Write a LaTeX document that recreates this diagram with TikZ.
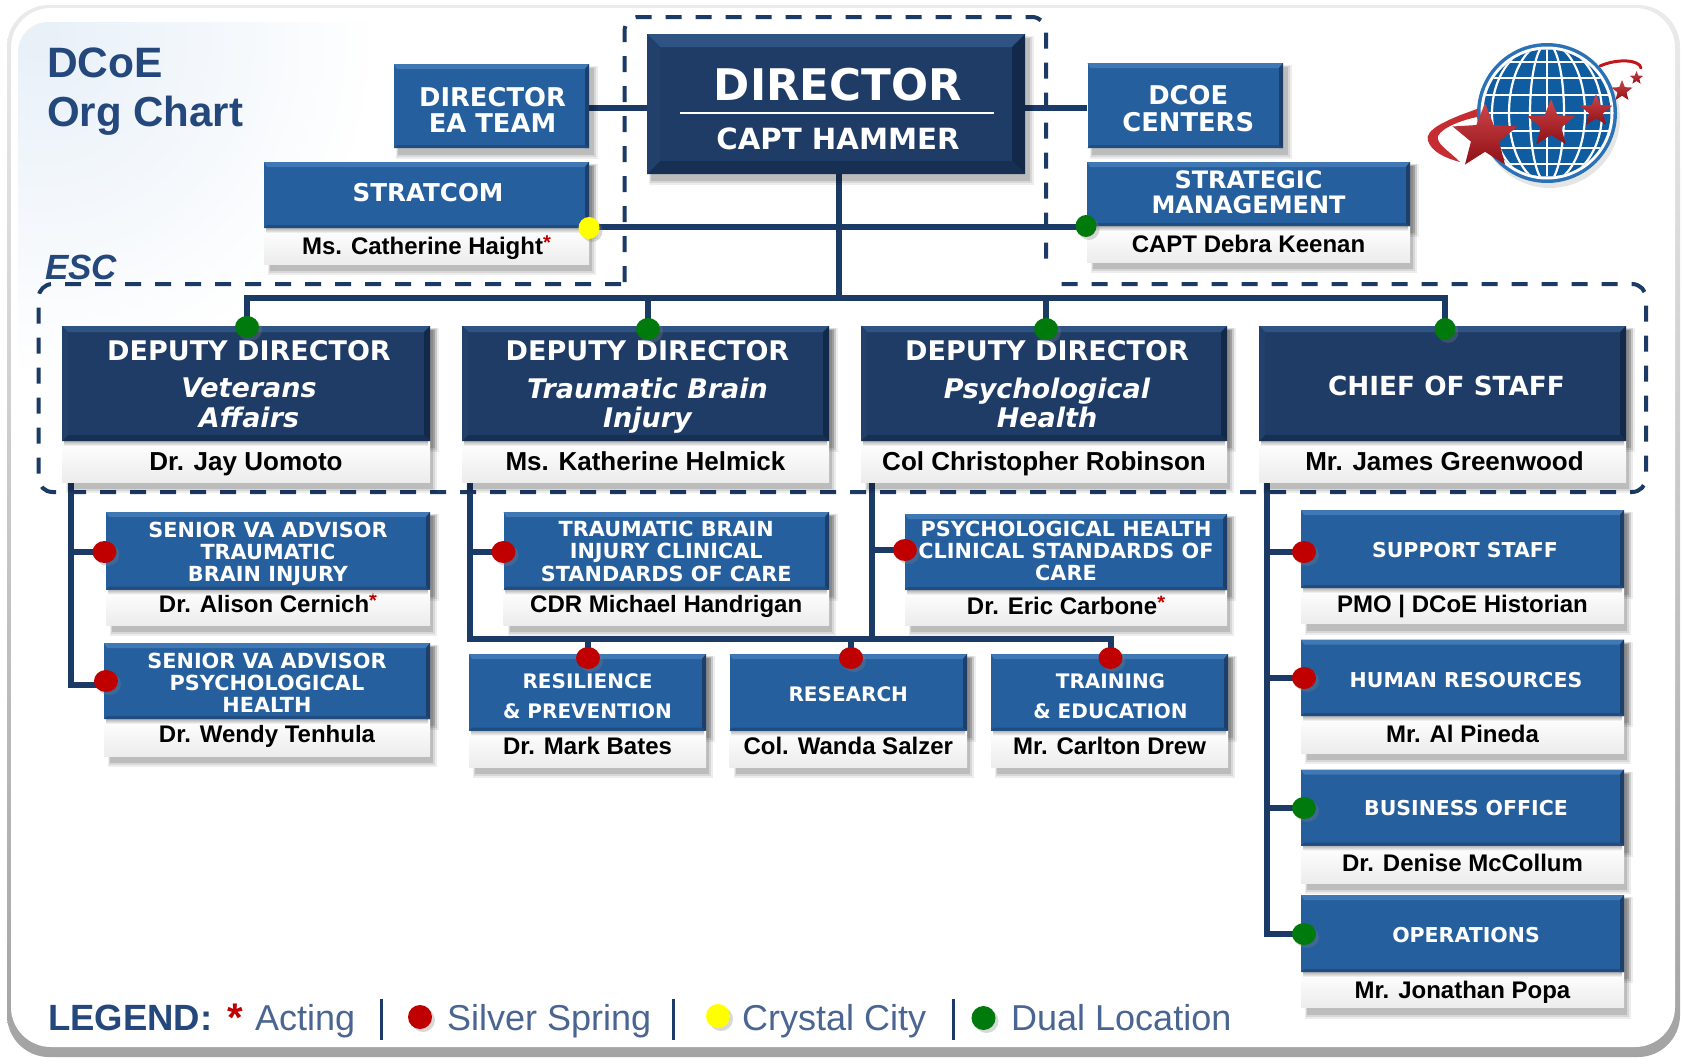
\documentclass[tikz,border=0pt]{standalone}
\usepackage{fontspec}
\setmainfont{Liberation Sans}
\newfontfamily\boxfont{DejaVu Sans}
\usetikzlibrary{shapes.geometric,shadows}
\definecolor{navy}{HTML}{1E3C66}
\definecolor{navyhi}{HTML}{2F5483}
\definecolor{navylo}{HTML}{12294A}
\definecolor{midblue}{HTML}{255F9E}
\definecolor{bluehi}{HTML}{3F78B4}
\definecolor{bluelo}{HTML}{1D3F6B}
\definecolor{linecol}{HTML}{1B3A66}
\definecolor{titlecol}{HTML}{24477C}
\definecolor{legcol}{HTML}{4A6591}
\definecolor{dotred}{HTML}{C00000}
\definecolor{dotgreen}{HTML}{007A0C}
\definecolor{dotyellow}{HTML}{FFFF00}
\definecolor{panelgrey}{HTML}{ECECEC}
\definecolor{globeblue}{HTML}{0F5CA0}
\definecolor{globering}{HTML}{2A72B5}
\definecolor{cornertint}{HTML}{E8F0F8}
\definecolor{starred}{HTML}{C0161C}
\tikzset{
  bluebox/.style={fill=midblue,text=white,inner sep=0pt,font=\boxfont\bfseries},
  navybox/.style={fill=navy,text=white,inner sep=0pt,font=\boxfont\bfseries},
  namebox/.style={top color=white,bottom color=panelgrey,text=black,inner sep=0pt,font=\bfseries},
  conn/.style={draw=linecol,line width=6pt,line cap=butt,line join=miter},
  dashbox/.style={draw=linecol,line width=4pt,dash pattern=on 16pt off 14pt,rounded corners=14pt},
  orgdot/.style={ellipse,minimum width=24pt,minimum height=22pt,inner sep=0pt,
    drop shadow={shadow xshift=3pt,shadow yshift=-3pt,opacity=.3}},
  reddot/.style={orgdot,fill=dotred},
  greendot/.style={orgdot,fill=dotgreen},
  yellowdot/.style={orgdot,fill=dotyellow,minimum width=21pt},
  legtext/.style={anchor=base west,inner sep=0pt,text=legcol,font=\fontsize{36}{38}\selectfont},
  legbar/.style={draw=linecol,line width=3pt},
  starshape/.style={star,star points=5,star point ratio=2.3,inner sep=0pt,top color=starred!80!white,bottom color=starred!75!black}
}
\newcommand\lns[4]{\raisebox{#1pt}[0pt][0pt]{\fontsize{#2}{#3}\selectfont\begin{tabular}[c]{@{}c@{}}#4\end{tabular}}}
\newcommand\rt[1]{\hspace*{#1pt}}
\newcommand\nm[2][24]{\raisebox{0pt}[0pt][0pt]{\fontsize{#1}{#1}\selectfont\raisebox{-0.35em}[0pt][0pt]{#2}}}
\newcommand\nmup[2]{\raisebox{#1pt}[0pt][0pt]{\nm{#2}}}
\newcommand\actg{\textcolor{dotred}{\raisebox{.2em}{\fontsize{20}{20}\selectfont *}}}
\newcommand\softsh[4]{%
  \fill[black,opacity=.07] (#1+2,#2+2) rectangle (#3+9,#4+11);
  \fill[black,opacity=.09] (#1+3,#2+3) rectangle (#3+7,#4+9);
  \fill[black,opacity=.12] (#1+4,#2+4) rectangle (#3+5,#4+7);}
\newcommand\orgbox[7]{%
  \pgfmathsetmacro\cx{(#2+#4)/2}\pgfmathsetmacro\cy{(#3+#5)/2}%
  \pgfmathsetmacro\bw{#4-#2}\pgfmathsetmacro\bh{#5-#3}%
  \node[#6,minimum width=\bw pt,minimum height=\bh pt] (#1) at (\cx,\cy) {#7};}
\newcommand\bevelblue[4]{%
  \fill[bluehi] (#1,#2)--(#3,#2)--(#3-4,#2+5)--(#1+3,#2+5)--cycle;
  \fill[bluelo] (#3,#2)--(#3,#4)--(#3-4,#4)--(#3-4,#2+5)--cycle;
  \fill[bluelo!60!midblue] (#1,#4)--(#3,#4)--(#3-4,#4-3)--(#1+3,#4-3)--cycle;}
\newcommand\bevelnavy[5]{%
  \fill[navyhi] (#1,#2)--(#3,#2)--(#3-#5,#2+#5)--(#1+#5,#2+#5)--cycle;
  \fill[navylo] (#3,#2)--(#3,#4)--(#3-#5,#4-#5)--(#3-#5,#2+#5)--cycle;
  \fill[navylo!70!navy] (#1,#4)--(#3,#4)--(#3-#5,#4-#5)--(#1+#5,#4-#5)--cycle;
  \fill[navy!80!navyhi] (#1,#2)--(#1,#4)--(#1+#5,#4-#5)--(#1+#5,#2+#5)--cycle;}
\newcommand\plainblue[6]{\softsh{#2}{#3}{#4}{#5}\orgbox{#1}{#2}{#3}{#4}{#5}{bluebox}{#6}\bevelblue{#2}{#3}{#4}{#5}}
\newcommand\panel[6]{%
  \orgbox{#1}{#2+2}{#3}{#4-2}{#5}{namebox}{#6}
  \shade[top color=black!50,bottom color=white,opacity=.6] (#2+2,#3) rectangle (#4-2,#3+5);}
\newcommand\bluestaff[8]{%
  \softsh{#2+2}{#3}{#4-2}{#6}\softsh{#2}{#3}{#4}{#5}%
  \panel{#1n}{#2}{#5}{#4}{#6}{#8}%
  \orgbox{#1}{#2}{#3}{#4}{#5}{bluebox}{#7}\bevelblue{#2}{#3}{#4}{#5}}
\newcommand\navystaff[8]{%
  \softsh{#2+2}{#3}{#4-2}{#6}\softsh{#2}{#3}{#4}{#5}%
  \panel{#1n}{#2}{#5}{#4}{#6}{#8}%
  \orgbox{#1}{#2}{#3}{#4}{#5}{navybox}{#7}\bevelnavy{#2}{#3}{#4}{#5}{6}}
\pgfdeclarelayer{backplate}
\pgfdeclarelayer{lines}
\pgfsetlayers{backplate,lines,main}
\begin{document}
\begin{tikzpicture}[x=1pt,y=-1pt]
\useasboundingbox (0,0) rectangle (1683,1063);
\begin{pgfonlayer}{backplate}
\fill[white] (0,0) rectangle (1683,1063);
\shade[top color=black!8,bottom color=black!36,rounded corners=42pt] (7,5) rectangle (1680,1057);
\fill[white,rounded corners=40pt] (11,8) rectangle (1675,1047);
\begin{scope}
\clip[rounded corners=30pt] (18,22) rectangle (700,700);
\shade[inner color=cornertint,outer color=white] (40,40) circle (340);
\end{scope}
\end{pgfonlayer}
% titles
\node[anchor=base west,inner sep=0pt,text=titlecol,font=\bfseries\fontsize{42.5}{44}\selectfont] (ttl1) at (47,77) {DCoE};
\node[anchor=base west,inner sep=0pt,text=titlecol,font=\bfseries\fontsize{42}{44}\selectfont] (ttl2) at (47,126) {Org Chart};
\node[anchor=base west,inner sep=0pt,text=titlecol,font=\bfseries\itshape\fontsize{35}{37}\selectfont] (esc) at (45,279) {ESC};
% dashed groups
\begin{pgfonlayer}{lines}
\draw[dashbox] (621,284) -- (38.5,284) -- (38.5,492) -- (1646,492) -- (1646,284) -- (1058,284);
\draw[dashbox] (624.5,282) -- (624.5,17) -- (1046,17) -- (1046,262);
\end{pgfonlayer}
% top row
\softsh{647}{34}{1025}{174}
\orgbox{dir}{647}{34}{1025}{174}{navybox}{\lns{7}{43.6}{46}{\rt{4}DIRECTOR}}
\bevelnavy{647}{34}{1025}{174}{13}
\node[inner sep=0pt,text=white,font=\boxfont\bfseries\fontsize{29.2}{31}\selectfont] (dirsub) at (838,139) {CAPT HAMMER};
\draw[white,line width=2pt] (680,112.5) -- (994,112.5);
\plainblue{ea}{394}{64}{589}{148}{\lns{-14}{25.8}{25.5}{\rt{2}DIRECTOR\\\rt{2}EA TEAM}}
\plainblue{ctr}{1087.5}{63}{1283}{148}{\lns{-12.7}{25.8}{25.5}{\rt{6}DCOE\\\rt{6}CENTERS}}
\bluestaff{strat}{264}{162}{589}{228}{264}{\lns{-7.6}{24.6}{26}{\rt{3}STRATCOM}}{\nm{Ms. Catherine Haight\actg}}
\bluestaff{smg}{1087}{162}{1410}{226}{262}{\lns{-7.6}{24}{23}{STRATEGIC\\MANAGEMENT}}{\nm{CAPT Debra Keenan}}
% deputies
\navystaff{dva}{62}{326}{430}{441}{482}{\lns{-11}{27}{29}{\rt{6}DEPUTY DIRECTOR\\[8pt]\rt{6}\itshape Veterans\\\rt{6}\itshape Affairs}}{\nm[26]{Dr. Jay Uomoto}}
\navystaff{dtb}{462}{326}{829}{441}{482}{\lns{-11}{27}{29}{\rt{4}DEPUTY DIRECTOR\\[8pt]\rt{4}\itshape Traumatic Brain\\\rt{4}\itshape Injury}}{\nm[26]{Ms. Katherine Helmick}}
\navystaff{dph}{861}{326}{1227}{441}{482}{\lns{-11}{27}{29}{\rt{6}DEPUTY DIRECTOR\\[8pt]\rt{6}\itshape Psychological\\\rt{6}\itshape Health}}{\nm[26]{Col Christopher Robinson}}
\navystaff{cos}{1259}{326}{1626}{441}{482}{\lns{-12.7}{26.3}{28}{\rt{8}CHIEF OF STAFF}}{\nm[26]{\rt{4}Mr. James Greenwood}}
% left column
\bluestaff{sv1}{106}{512}{430}{589.5}{625}{\lns{-9.7}{20.8}{22}{SENIOR VA ADVISOR\\TRAUMATIC\\BRAIN INJURY}}{\nmup{3.5}{Dr. Alison Cernich\actg}}
\bluestaff{sv2}{104}{643}{430}{719}{756}{\lns{-10}{20.8}{22}{SENIOR VA ADVISOR\\PSYCHOLOGICAL\\HEALTH}}{\nmup{3}{Dr. Wendy Tenhula}}
% middle
\bluestaff{tbi}{503.5}{512}{829}{589.5}{625}{\lns{-9}{20.8}{22}{TRAUMATIC BRAIN\\INJURY CLINICAL\\STANDARDS OF CARE}}{\nmup{3.5}{CDR Michael Handrigan}}
\bluestaff{phc}{905}{514}{1227}{590}{625}{\lns{-7}{20.8}{22}{PSYCHOLOGICAL HEALTH\\CLINICAL STANDARDS OF\\CARE}}{\nmup{1.5}{Dr. Eric Carbone\actg}}
\bluestaff{res}{469}{654}{706}{730.5}{767}{\lns{-10.9}{20}{30}{RESILIENCE\\\& PREVENTION}}{\nmup{2.5}{Dr. Mark Bates}}
\bluestaff{rsc}{729.5}{654}{967}{730.5}{767}{\lns{-8.9}{20}{30}{RESEARCH}}{\nmup{2.5}{Col. Wanda Salzer}}
\bluestaff{trn}{991}{654}{1228}{730.5}{767}{\lns{-10.9}{20}{30}{\rt{2}TRAINING\\\rt{2}\& EDUCATION}}{\nmup{2.5}{Mr. Carlton Drew}}
% right column
\bluestaff{sup}{1301}{510}{1624}{588}{623.5}{\lns{-9.5}{20.5}{22}{\rt{5}SUPPORT STAFF}}{\nmup{1.5}{PMO | DCoE Historian}}
\bluestaff{hrs}{1301}{639.5}{1624}{716}{753}{\lns{-10.3}{20.5}{22}{\rt{7}HUMAN RESOURCES}}{\nm{Mr. Al Pineda}}
\bluestaff{bus}{1301}{769.5}{1624}{845.5}{883}{\lns{-9.2}{20.5}{22}{\rt{7}BUSINESS OFFICE}}{\nmup{1.5}{Dr. Denise McCollum}}
\bluestaff{ops}{1301}{895}{1624}{972}{1007.5}{\lns{-9.5}{20.5}{22}{\rt{7}OPERATIONS}}{\nm{Mr. Jonathan Popa}}
% location dots
\node[yellowdot] (dstrat) at (589,228) {};
\node[greendot,minimum width=21pt] (dsmg) at (1086,226) {};
\node[greendot] (ddva) at (247,327) {};
\node[greendot] (ddtb) at (648,329) {};
\node[greendot] (ddph) at (1046,329) {};
\node[greendot,minimum width=21pt] (dcos) at (1445,329) {};
\node[reddot] (dsv1) at (104.5,552) {};
\node[reddot] (dsv2) at (106,681) {};
\node[reddot] (dtbi) at (503.5,552) {};
\node[reddot] (dphc) at (905,550) {};
\node[reddot] (dres) at (588,658) {};
\node[reddot] (drsc) at (851,658) {};
\node[reddot] (dtrn) at (1110.5,658) {};
\node[reddot] (dsup) at (1304,552) {};
\node[reddot] (dhrs) at (1304,678) {};
\node[greendot] (dbus) at (1304,808) {};
\node[greendot] (dops) at (1304,934) {};
% connector junctions
\coordinate (tktop) at (839,174);
\coordinate (tkmid) at (839,226.5);
\coordinate (tkbot) at (839,297.5);
\coordinate (lv) at (70.7,482);
\coordinate (lb) at (70.7,685);
\coordinate (mv) at (470,482);
\coordinate (mb) at (470,639);
\coordinate (pv) at (872,482);
\coordinate (pb) at (872,639);
\coordinate (rv) at (1267,482);
\coordinate (rb) at (1267,934);
\begin{pgfonlayer}{lines}
\draw[conn] (ea.east |- 0,108) -- (dir.west |- 0,108);
\draw[conn] (dir.east |- 0,108) -- (ctr.west |- 0,108);
\draw[conn] (tktop) -- (tkbot);
\draw[conn] (dstrat.center |- tkmid) -- (dsmg.center |- tkmid);
\draw[conn] (ddva.center) -- (ddva.center |- tkbot) -- (dcos.center |- tkbot) -- (dcos.center);
\draw[conn] (ddtb.center) -- (ddtb.center |- tkbot);
\draw[conn] (ddph.center) -- (ddph.center |- tkbot);
\draw[conn] (lv) -- (lb) -- (dsv2.center |- lb);
\draw[conn] (lv |- dsv1.center) -- (dsv1.center);
\draw[conn] (mv) -- (mb) -- (dtrn.center |- mb) -- (dtrn.center);
\draw[conn] (mv |- dtbi.center) -- (dtbi.center);
\draw[conn] (pv) -- (pb);
\draw[conn] (pv |- dphc.center) -- (dphc.center);
\draw[conn] (dres.center) -- (dres.center |- mb);
\draw[conn] (drsc.center) -- (drsc.center |- mb);
\draw[conn] (rv) -- (rb) -- (dops.center |- rb);
\draw[conn] (rv |- dsup.center) -- (dsup.center);
\draw[conn] (rv |- dhrs.center) -- (dhrs.center);
\draw[conn] (rv |- dbus.center) -- (dbus.center);
\end{pgfonlayer}
% globe logo
\draw[starred,line width=3pt,line cap=round] (1600,66) .. controls (1618,58) and (1640,60) .. (1641,68);
\fill[black,opacity=.1] (1550,118) circle (70);
\fill[starred!90!white] (1480,108) .. controls (1445,120) and (1424,130) .. (1428,141) .. controls (1432,152) and (1445,158) .. (1460,162) .. controls (1448,150) and (1436,144) .. (1438,136) .. controls (1442,128) and (1460,120) .. (1482,116) -- cycle;
\fill[globering] (1547,113) circle (70);
\fill[white] (1547,113) circle (66.5);
\begin{scope}
\clip (1547,113) circle (63.5);
\fill[globeblue] (1477,43) rectangle (1617,183);
\draw[white,line width=2.2pt] (1547,43) -- (1547,183);
\draw[white,line width=2.2pt] (1547,113) ellipse (17 and 70);
\draw[white,line width=2.2pt] (1547,113) ellipse (38 and 70);
\draw[white,line width=2.2pt] (1547,113) ellipse (55 and 70);
\foreach \yy in {62,78,95,113,131,148,164} {
  \draw[white,line width=2.2pt] (1477,\yy) -- (1617,\yy);}
\end{scope}
\node[starshape,minimum size=68pt] (star1) at (1485,137) {};
\node[starshape,minimum size=50pt] (star2) at (1551,124) {};
\node[starshape,minimum size=34pt] (star3) at (1596,111) {};
\node[starshape,minimum size=22pt] (star4) at (1622,91) {};
\node[starshape,minimum size=14pt] (star5) at (1636.5,78) {};
% legend
\node[anchor=base west,inner sep=0pt,text=titlecol,font=\bfseries\fontsize{36.5}{38}\selectfont] (lgd) at (48,1030) {LEGEND:};
\node[inner sep=0pt,text=dotred,font=\bfseries\fontsize{40}{40}\selectfont] (lgast) at (235,1018) {*};
\node[legtext] (lg1) at (255,1030) {Acting};
\draw[legbar] (381,999) -- (381,1040);
\node[reddot,minimum width=24pt,minimum height=24pt] (lgr) at (420,1017) {};
\node[legtext] (lg2) at (447,1030) {Silver Spring};
\draw[legbar] (673,999) -- (673,1040);
\node[yellowdot,minimum width=24pt,minimum height=24pt] (lgy) at (718,1016) {};
\node[legtext] (lg3) at (742,1030) {Crystal City};
\draw[legbar] (953,999) -- (953,1040);
\node[greendot,minimum width=24pt,minimum height=24pt] (lgg) at (983.5,1018) {};
\node[legtext] (lg4) at (1011,1030) {Dual Location};
\end{tikzpicture}
\end{document}
